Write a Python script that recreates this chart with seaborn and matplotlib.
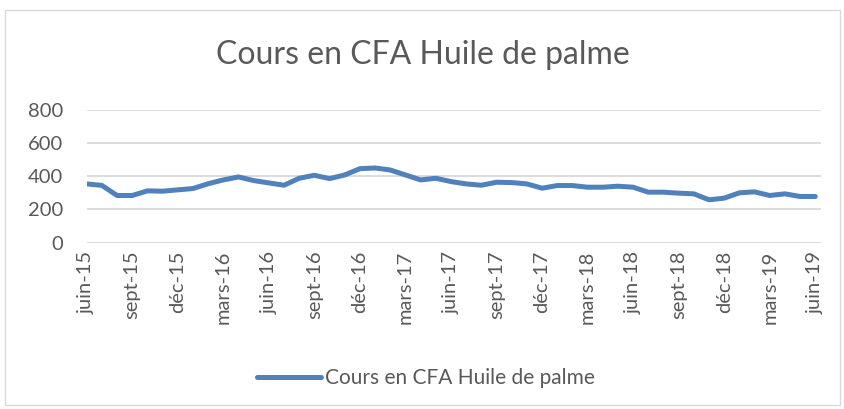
import pandas as pd
import matplotlib
matplotlib.use('Agg')
import matplotlib.pyplot as plt
import seaborn as sns
from matplotlib.patches import Rectangle

# monthly prices, juin-15 .. juin-19
series_name = 'Cours en CFA Huile de palme'
prices = [354, 345, 284, 284, 312, 310, 318, 326, 355, 378, 396, 374, 360,
          346, 388, 406, 386, 408, 446, 450, 438, 408, 378, 388, 368, 354,
          346, 364, 362, 354, 328, 344, 344, 334, 334, 340, 334, 304, 304,
          298, 294, 258, 268, 300, 306, 284, 294, 278, 278]
tick_labels = ['juin-15', 'sept-15', 'déc-15', 'mars-16', 'juin-16', 'sept-16',
               'déc-16', 'mars-17', 'juin-17', 'sept-17', 'déc-17', 'mars-18',
               'juin-18', 'sept-18', 'déc-18', 'mars-19', 'juin-19']
y_ticks = [0, 200, 400, 600, 800]

grey_text = '#595959'
grid_col = '#D9D9D9'
line_col = '#4F81BD'

sns.set_style('white')
plt.rcParams['font.family'] = ['Lato', 'DejaVu Sans']

df = pd.DataFrame({'mois': range(len(prices)), 'cours': prices})

fig = plt.figure(figsize=(8.45, 4.09), dpi=100)
ax = fig.add_axes([0.1026, 0.407, 0.8694, 0.324])

sns.lineplot(data=df, x='mois', y='cours', ax=ax, color=line_col,
             linewidth=3.6, label=series_name, legend=False)

ax.set_xlim(0, 48.4)
ax.set_ylim(0, 800)
ax.set_yticks(y_ticks)
ax.set_yticklabels([str(v) for v in y_ticks])
ax.set_xticks(range(0, len(prices), 3))
ax.set_xticklabels(tick_labels, rotation=90, va='top')
ax.tick_params(axis='both', length=0, labelsize=14.5, colors=grey_text)
ax.tick_params(axis='y', pad=17)
ax.tick_params(axis='x', pad=6)
ax.grid(axis='y', color=grid_col, linewidth=1.3)
ax.set_axisbelow(True)
for s in ['top', 'right', 'left', 'bottom']:
    ax.spines[s].set_visible(False)
ax.set_xlabel('')
ax.set_ylabel('')

fig.text(0.5, 0.866, series_name, ha='center', va='center',
         fontsize=23, color=grey_text)

handles, labels = ax.get_legend_handles_labels()
fig.legend(handles, labels, loc='center', bbox_to_anchor=(0.504, 0.076),
           frameon=False, fontsize=15, handlelength=3.1, handletextpad=0.2,
           labelcolor=grey_text)

fig.patches.append(Rectangle((5 / 845, 4 / 409), 835 / 845, 395 / 409,
                             transform=fig.transFigure, fill=False,
                             edgecolor=grid_col, linewidth=1))

fig.savefig('out.png', dpi=100)
